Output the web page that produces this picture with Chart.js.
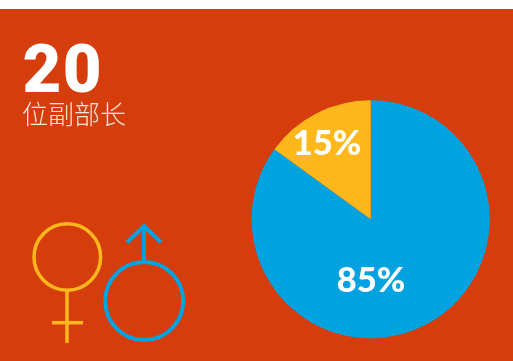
<!DOCTYPE html>
<html>
<head>
<meta charset="utf-8">
<style>
  html, body { margin: 0; padding: 0; background: #fff; }
  #wrap { position: relative; width: 513px; height: 361px; overflow: hidden; }
</style>
<script src="https://cdn.jsdelivr.net/npm/chart.js@4"></script>
</head>
<body>
<div id="wrap"><canvas id="myChart" width="513" height="361"></canvas></div>
<script>
const categories = ["男", "女"];
const shares = [85, 15];
const sliceColors = ["#00A3E0", "#FFB81C"];
const headline = "20";
const subline = "位副部长";

const RED = "#D53D0C";
const BLUE = sliceColors[0];
const YELLOW = sliceColors[1];

function line(c, x1, y1, x2, y2) {
  c.beginPath();
  c.moveTo(x1, y1);
  c.lineTo(x2, y2);
  c.stroke();
}

function ring(c, x, y, r) {
  c.beginPath();
  c.arc(x, y, r, 0, Math.PI * 2);
  c.stroke();
}

// red panel sits behind the pie, white strip stays on top
const panel = {
  id: "panel",
  beforeDraw(chart) {
    const c = chart.ctx;
    c.save();
    c.fillStyle = RED;
    c.fillRect(0, 9, chart.width, chart.height - 9);
    c.restore();
  },
};

// headline, gender symbols and the percent labels
const extras = {
  id: "extras",
  afterDraw(chart) {
    const c = chart.ctx;
    c.save();
    c.textBaseline = "alphabetic";
    c.textAlign = "left";
    c.fillStyle = "#fff";
    c.font = "900 67px Roboto";
    c.letterSpacing = "1.5px";
    c.fillText(headline, 22.5, 92);
    c.letterSpacing = "0px";
    c.fillStyle = "#FBE3D8";
    c.font = "300 26px 'Noto Sans CJK SC'";
    c.fillText(subline, 22, 124);

    c.lineCap = "butt";
    c.strokeStyle = YELLOW;
    c.lineWidth = 3.5;
    ring(c, 67.3, 257, 33.3);
    line(c, 67, 290, 67, 343);
    line(c, 52, 322.7, 83, 322.7);

    c.strokeStyle = BLUE;
    c.lineWidth = 4;
    ring(c, 144.2, 301, 39);
    line(c, 144, 262, 144, 228);
    c.beginPath();
    c.moveTo(127, 242.5);
    c.lineTo(144, 226);
    c.lineTo(161, 242.5);
    c.stroke();

    c.fillStyle = "#fff";
    c.textAlign = "center";
    c.font = "900 34.5px Lato";
    c.fillText(shares[0] + "%", 371, 292);
    c.fillText(shares[1] + "%", 327, 155);
    c.restore();
  },
};

const ctx = document.getElementById("myChart");

new Chart(ctx, {
  type: "pie",
  data: {
    labels: categories,
    datasets: [
      {
        data: shares,
        backgroundColor: sliceColors,
        borderWidth: 0,
      },
    ],
  },
  options: {
    responsive: false,
    animation: false,
    layout: { padding: { left: 251.7, right: 23.3, top: 100.3, bottom: 22.7 } },
    plugins: {
      legend: { display: false },
      tooltip: { enabled: false },
    },
  },
  plugins: [panel, extras],
});
</script>
</body>
</html>
